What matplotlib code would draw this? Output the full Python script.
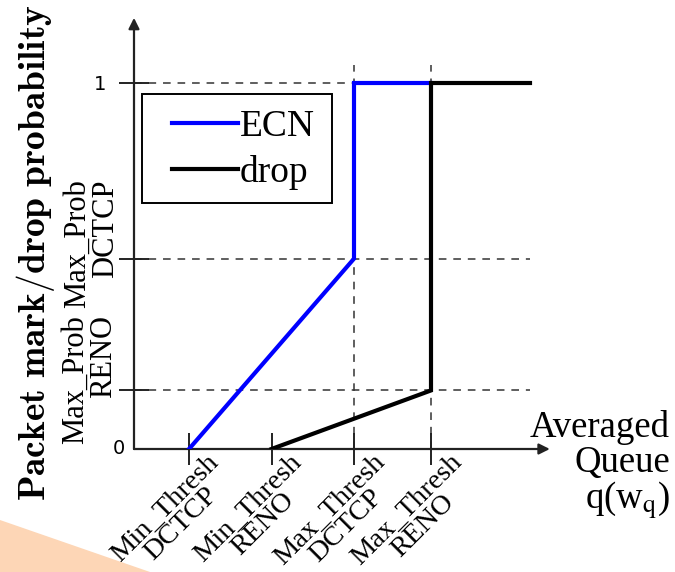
import matplotlib

matplotlib.use("Agg")
import matplotlib.pyplot as plt
from matplotlib.patches import Polygon, Rectangle
from matplotlib.transforms import ScaledTranslation

plt.rcParams["font.family"] = ["Liberation Serif", "DejaVu Serif"]

# queue thresholds (arbitrary queue units) and probabilities
thresh_labels = ["Min_Thresh\nDCTCP", "Min_Thresh\nRENO", "Max_Thresh\nDCTCP", "Max_Thresh\nRENO"]
min_dctcp, min_reno, max_dctcp, max_reno = 10, 25, 40, 54
q_end = 72
p_dctcp = 0.52
p_reno = 0.16
prob_labels = ["Max_Prob\nRENO", "Max_Prob\nDCTCP", "1"]

ecn_q = [min_dctcp, max_dctcp, max_dctcp, max_reno]
ecn_p = [0, p_dctcp, 1, 1]
drop_q = [min_reno, max_reno, max_reno, q_end]
drop_p = [0, p_reno, 1, 1]

W, H = 675, 572
fig = plt.figure(figsize=(W / 100, H / 100), dpi=100)

# peach corner from the slide behind the chart
fig.patches.append(Polygon([(0, 0), (0, 52 / H), (150 / W, 0)], closed=True,
                           transform=fig.transFigure, facecolor="#fdd6b6",
                           edgecolor="none", zorder=0))

x0, y0 = 134, 449
ax = fig.add_axes([x0 / W, (H - y0) / H, (W - x0) / W, y0 / H])
ax.set_xlim(0, (W - x0) / 5.5)
ax.set_ylim(0, y0 / 366)
for s in ax.spines.values():
    s.set_visible(False)
ax.patch.set_alpha(0)

dash = dict(color="#333333", lw=1.1, dashes=(5, 4.5), zorder=1)
for p in [p_reno, p_dctcp, 1]:
    ax.plot([0, q_end], [p, p], **dash)
for q in [max_dctcp, max_reno]:
    ax.plot([q, q], [0, 1.05], **dash)

arrow = dict(arrowstyle="-|>", lw=1.6, color="#222222", mutation_scale=16,
             shrinkA=0, shrinkB=0)
ax.annotate("", xy=(75.6, 0), xytext=(0, 0), arrowprops=arrow)
ax.annotate("", xy=(0, 1.178), xytext=(0, 0), arrowprops=arrow)

ax.plot(ecn_q, ecn_p, color="#0000ff", lw=3.0, label="ECN", zorder=3,
        solid_joinstyle="miter")
ax.plot(drop_q, drop_p, color="black", lw=3.0, label="drop", zorder=3,
        solid_joinstyle="miter")

ax.set_xticks([min_dctcp, min_reno, max_dctcp, max_reno])
ax.set_xticklabels(thresh_labels, rotation=45, ha="center", va="top",
                   fontsize=20.5, linespacing=0.85)
ax.tick_params(axis="x", direction="inout", length=23, width=1.4,
               color="#222222", pad=-11)
for lab in ax.get_xticklabels():
    lab.set_transform(lab.get_transform() + ScaledTranslation(-0.16, 0, fig.dpi_scale_trans))

ax.set_yticks([p_reno, p_dctcp, 1])
ax.set_yticklabels(prob_labels)
ax.tick_params(axis="y", direction="inout", length=21, width=1.4,
               color="#222222", pad=6)
ylabs = ax.get_yticklabels()
for lab, dx, dy in zip(ylabs[:2], [0.07, 0.09], [0.11, 0.15]):
    lab.set_rotation(90)
    lab.set_va("center")
    lab.set_fontsize(22)
    lab.set_linespacing(0.95)
    lab.set_transform(lab.get_transform() + ScaledTranslation(dx, dy, fig.dpi_scale_trans))
ylabs[2].set_fontfamily("DejaVu Sans")
ylabs[2].set_fontsize(14)
ylabs[2].set_transform(ylabs[2].get_transform() + ScaledTranslation(-0.05, 0, fig.dpi_scale_trans))

ax.text(-0.016, 0, "0", transform=ax.get_yaxis_transform(), ha="right", va="center",
        family="DejaVu Sans", fontsize=14)

# legend box drawn on its own so the padding can match the original
ax.add_patch(Rectangle((142 / W, 1 - 203 / H), 190 / W, 109 / H, transform=fig.transFigure,
                       facecolor="white", edgecolor="black", lw=1.4, zorder=4,
                       clip_on=False))
ax.legend(loc="center left", bbox_to_anchor=(172 / W, 1 - 150 / H),
          bbox_transform=fig.transFigure, fontsize=27, frameon=False,
          borderpad=0, labelspacing=0.3, handlelength=1.75,
          handletextpad=0.05, borderaxespad=0).set_zorder(5)

fig.text(670 / W, 1 - 410 / H, "Averaged\nQueue\nq(w$_\\mathrm{q}$)", ha="right", va="top",
         fontsize=26.5, linespacing=1.0, math_fontfamily="stix")

fig.text(36 / W, 1 - 253 / H, r"$\mathbf{Packet\ mark/drop\ probability}$",
         rotation=90, ha="center", va="center", fontsize=27, math_fontfamily="cm")

fig.savefig("out.png", dpi=100)
